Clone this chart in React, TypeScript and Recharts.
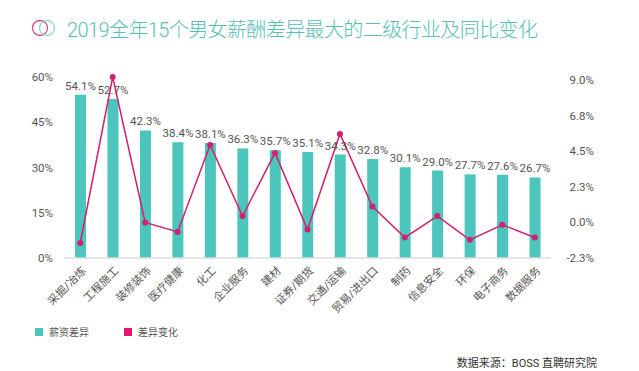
import { ComposedChart, Bar, Line, XAxis, YAxis, LabelList } from 'recharts';

const industries = [
  '采掘/冶炼', '工程施工', '装修装饰', '医疗健康', '化工', '企业服务', '建材', '证券/期货',
  '交通/运输', '贸易/进出口', '制药', '信息安全', '环保', '电子商务', '数据服务',
];
const payGap = [54.1, 52.7, 42.3, 38.4, 38.1, 36.3, 35.7, 35.1, 34.3, 32.8, 30.1, 29.0, 27.7, 27.6, 26.7];
const gapChange = [-1.3, 9.2, 0.0, -0.6, 4.9, 0.4, 4.4, -0.45, 5.6, 1.0, -0.95, 0.4, -1.1, -0.15, -0.95];
const leftTicks = [0, 15, 30, 45, 60];
const rightTicks = [-2.25, 0, 2.25, 4.5, 6.75, 9];

const TEAL = '#4cc5bd';
const PINK = '#d3206f';
const FONT = "Roboto, 'Noto Sans CJK SC', sans-serif";

const data = industries.map((name, i) => ({ name, gap: payGap[i], change: gapChange[i] }));

function CategoryTick({ x, y, payload }: any) {
  return (
    <text
      x={x + 4}
      y={y + 3}
      transform={`rotate(-45 ${x + 4} ${y + 3})`}
      textAnchor="end"
      dominantBaseline="central"
      fontSize={11}
      fill="#555"
      fontFamily={FONT}
    >
      {payload.value}
    </text>
  );
}

function RightTick({ x, y, payload }: any) {
  return (
    <text x={x + 35} y={y} textAnchor="end" dominantBaseline="central" fontSize={11.5} fill="#555" fontFamily={FONT}>
      {payload.value.toFixed(1) + '%'}
    </text>
  );
}

export default function App() {
  return (
    <div style={{ position: 'absolute', left: 0, top: 0, width: 639, height: 371, background: '#fff', fontFamily: FONT }}>
      {/* title */}
      <svg width={30} height={20} style={{ position: 'absolute', left: 31, top: 18 }}>
        <circle cx={9} cy={10} r={7.5} fill="none" stroke="#d5508a" strokeWidth={1.3} />
        <circle cx={16} cy={10} r={7.5} fill="none" stroke="#8fd6cf" strokeWidth={1.3} />
      </svg>
      <div style={{ position: 'absolute', left: 67, top: 14, fontSize: 20, color: '#56c0b7', fontWeight: 300, whiteSpace: 'nowrap', letterSpacing: -0.6 }}>
        2019全年15个男女薪酬差异最大的二级行业及同比变化
      </div>

      <ComposedChart width={639} height={371} data={data} margin={{ top: 77, right: 0, bottom: 0, left: 0 }}>
        <XAxis
          dataKey="name"
          interval={0}
          tickLine={false}
          axisLine={{ stroke: '#dcdcdc', strokeWidth: 1.5 }}
          tick={<CategoryTick />}
          height={113}
        />
        <YAxis
          yAxisId="left"
          domain={[0, 60]}
          ticks={leftTicks}
          tickFormatter={(v: number) => v + '%'}
          axisLine={false}
          tickLine={false}
          tickMargin={5}
          width={64}
          tick={{ fontSize: 11.5, fill: '#555', fontFamily: FONT }}
        />
        <YAxis
          yAxisId="right"
          orientation="right"
          domain={[-2.25, 9]}
          ticks={rightTicks}
          axisLine={false}
          tickLine={false}
          width={88}
          tick={<RightTick />}
        />
        <Bar yAxisId="left" dataKey="gap" fill={TEAL} barSize={11} isAnimationActive={false}>
          <LabelList
            dataKey="gap"
            position="top"
            formatter={(v: number) => v.toFixed(1) + '%'}
            style={{ fontSize: 11.5, fill: '#555', fontFamily: FONT }}
          />
        </Bar>
        <Line
          yAxisId="right"
          dataKey="change"
          stroke={PINK}
          strokeWidth={1.5}
          dot={{ r: 3, fill: PINK, stroke: PINK, strokeWidth: 0 }}
          isAnimationActive={false}
        />
      </ComposedChart>

      {/* legend */}
      <div style={{ position: 'absolute', left: 35, top: 328, width: 8, height: 8, background: TEAL }} />
      <div style={{ position: 'absolute', left: 49, top: 324, fontSize: 10, color: '#555' }}>薪资差异</div>
      <div style={{ position: 'absolute', left: 124, top: 328, width: 8, height: 8, background: '#e0176a' }} />
      <div style={{ position: 'absolute', left: 138, top: 324, fontSize: 10, color: '#555' }}>差异变化</div>

      {/* source */}
      <div style={{ position: 'absolute', right: 42, top: 354, fontSize: 11, color: '#333', whiteSpace: 'nowrap' }}>
        数据来源：BOSS 直聘研究院
      </div>
    </div>
  );
}
